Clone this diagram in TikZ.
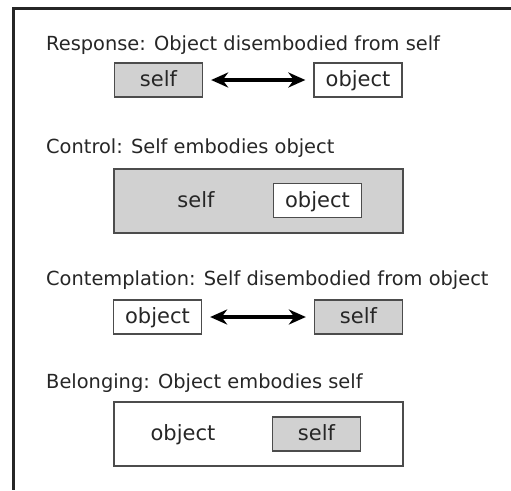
\documentclass[tikz,border=0pt]{standalone}
\usepackage{fontspec}
\setmainfont{DejaVu Sans}
\usetikzlibrary{arrows.meta}
\begin{document}
\begin{tikzpicture}
	[x=1pt,y=-1pt,
	box/.style={draw=black!70,line width=1.3pt,minimum width=88pt,minimum height=34pt,inner sep=0pt,font=\fontsize{21}{21}\selectfont,text height=16pt,text depth=3pt,text=black!85},
	selfbox/.style={box,fill=black!18},
	objbox/.style={box,fill=white},
	bigbox/.style={draw=black!70,line width=1.3pt,minimum width=289pt,minimum height=64pt,inner sep=0pt},
	word/.style={inner sep=0pt,font=\fontsize{21}{21}\selectfont,text height=16pt,text depth=3pt,text=black!85},
	title/.style={anchor=base west,inner sep=0pt,font=\fontsize{19.4}{20}\selectfont,text=black!85},
	link/.style={{Stealth[length=17pt,width=15pt]}-{Stealth[length=17pt,width=15pt]},line width=3.4pt,shorten <=8pt,shorten >=8pt}]
\useasboundingbox (0,0) rectangle (511,490);
\draw[black!85,line width=2.2pt] (511,8.5) -- (13.5,8.5) -- (13.5,490);
% response
\node[title] (t1) at (46,50) {Response: Object disembodied from self};
\node[selfbox] (s1) at (158.5,80) {self};
\node[objbox] (o1) at (358,80) {object};
\draw[link] (s1) -- (o1);
% control
\node[title] (t2) at (46,153) {Control: Self embodies object};
\node[bigbox,fill=black!18] (c2) at (258.5,201) {};
\node[word] (s2) at (196,201) {self};
\node[objbox] (o2) at (317.5,200.5) {object};
% contemplation
\node[title] (t3) at (46,285) {Contemplation: Self disembodied from object};
\node[objbox] (o3) at (157.5,317) {object};
\node[selfbox] (s3) at (358.5,317) {self};
\draw[link] (o3) -- (s3);
% belonging
\node[title] (t4) at (46,388) {Belonging: Object embodies self};
\node[bigbox,fill=white] (c4) at (258.5,434) {};
\node[word] (o4) at (183,434) {object};
\node[selfbox] (s4) at (316.5,434) {self};
\end{tikzpicture}
\end{document}
